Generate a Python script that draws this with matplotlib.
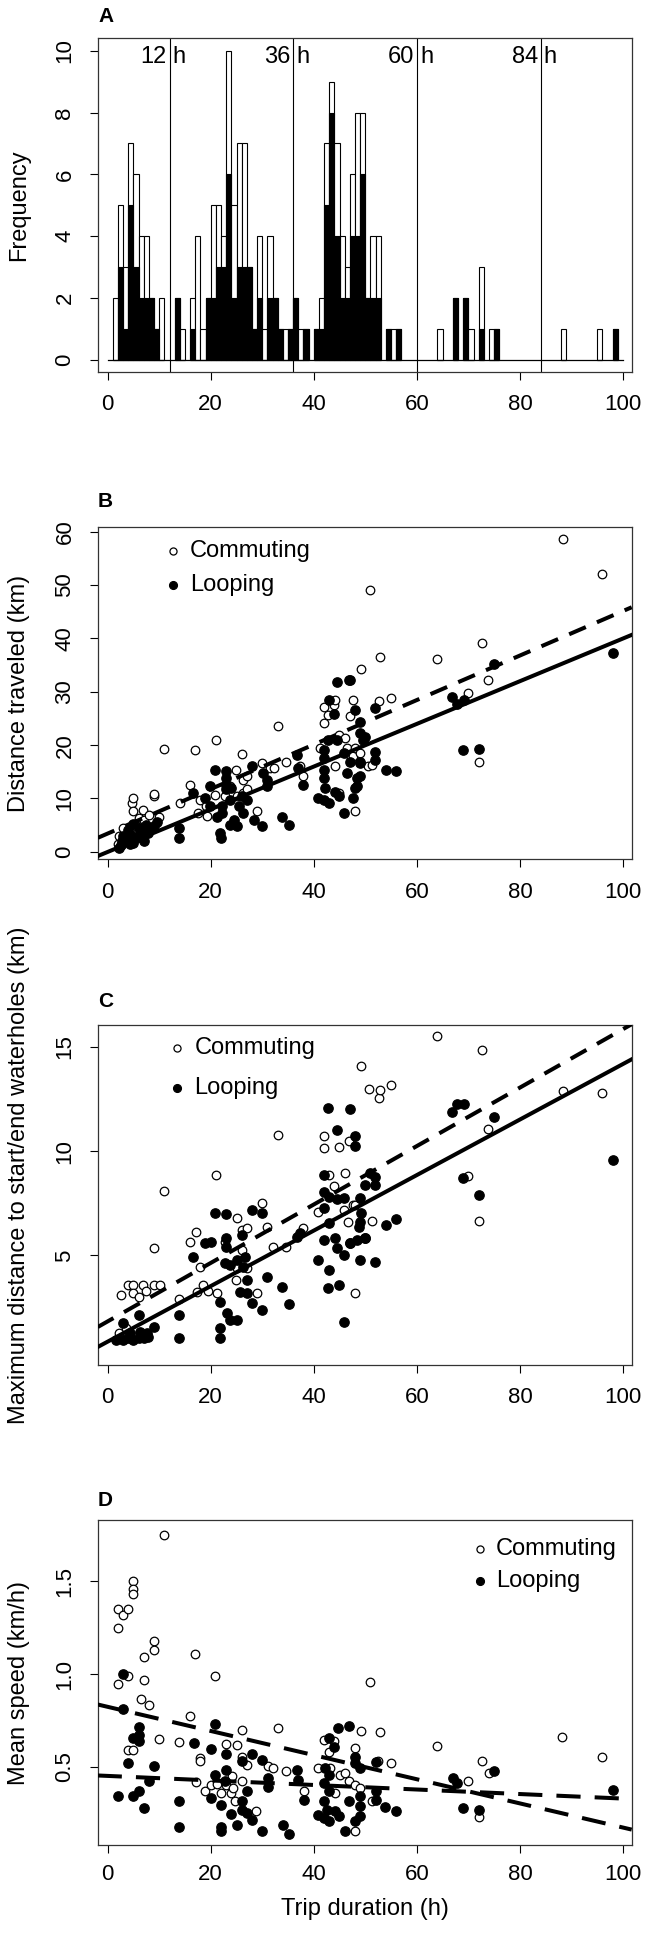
import matplotlib
matplotlib.use('Agg')
import matplotlib.pyplot as plt
import numpy as np

plt.rcParams['font.family'] = ['Liberation Sans', 'DejaVu Sans']

# ---- panel A: histogram of trip durations (1 h bins), total and looping counts
hist_bins = [1, 2, 3, 4, 5, 6, 7, 8, 9, 10, 13, 14, 16, 17, 18, 19, 20, 21, 22, 23,
             24, 25, 26, 27, 28, 29, 30, 31, 32, 33, 34, 35, 36, 37, 38, 40, 41, 42,
             43, 44, 45, 46, 47, 48, 49, 50, 51, 52, 54, 55, 56, 64, 67, 69, 70, 72,
             74, 75, 88, 95, 98]
hist_total = [2, 5, 3, 7, 6, 4, 4, 2, 1, 2, 2, 1, 2, 4, 1, 2, 5, 5, 4, 10,
              5, 7, 7, 3, 1, 4, 1, 4, 2, 1, 1, 1, 2, 1, 1, 1, 2, 7,
              9, 7, 4, 3, 6, 8, 8, 2, 4, 4, 1, 1, 1, 1, 2, 2, 1, 3,
              1, 1, 1, 1, 1]
hist_loop = [0, 3, 1, 5, 3, 2, 2, 2, 1, 0, 2, 0, 1, 0, 0, 2, 2, 3, 3, 6,
             2, 3, 3, 3, 1, 2, 0, 2, 2, 1, 0, 1, 2, 0, 1, 1, 1, 5,
             8, 4, 2, 2, 4, 4, 6, 2, 2, 2, 1, 0, 1, 0, 2, 2, 0, 1,
             0, 1, 0, 0, 1]
day_marks = [12, 36, 60, 84]

# ---- panel B: distance traveled (km)
b_comm_x = [2.0, 2.1, 3.0, 3.5, 4.0, 4.8, 5.0, 5.0, 5.5, 6.0, 6.9, 7.0, 8.0, 8.9, 9.0, 10.0,
            10.9, 14.0, 16.0, 17.0, 17.6, 18.0, 19.0, 19.2, 20.8, 21.0, 22.8, 23.7, 24.9,
            25.0, 26.0, 26.3, 27.0, 26.3, 27.0, 28.9, 29.9, 31.5, 32.2, 33.0, 34.7, 37.3,
            38.0, 41.2, 41.9, 41.9, 42.7, 44.0, 44.1, 44.1, 44.8, 44.8, 46.1, 46.4, 47.0,
            47.0, 47.7, 47.7, 48.0, 48.0, 49.0, 49.2, 50.6, 50.9, 51.2, 52.7, 52.9, 55.0,
            64.0, 69.9, 72.0, 72.7, 73.9, 88.3, 95.9]
b_comm_y = [1.5, 2.9, 4.5, 2.5, 3.5, 9.2, 7.6, 10.0, 4.8, 6.3, 7.9, 6.0, 6.9, 10.4, 10.9, 6.6,
            19.3, 9.2, 12.6, 19.0, 7.3, 9.8, 8.5, 6.7, 10.7, 20.9, 10.4, 12.3, 15.4,
            10.4, 18.4, 11.0, 11.7, 13.5, 14.2, 7.6, 16.6, 15.7, 15.7, 23.5, 16.9, 16.0,
            14.2, 19.5, 27.2, 24.1, 25.7, 27.6, 28.5, 16.0, 21.9, 11.0, 21.3, 19.5, 25.4,
            18.2, 17.9, 28.5, 19.5, 7.6, 18.5, 34.2, 16.0, 49.0, 16.3, 28.2, 36.6, 28.8,
            36.2, 29.7, 16.8, 39.2, 32.2, 58.6, 52.1]
b_loop_x = [2.1, 2.5, 2.7, 3.0, 3.7, 4.0, 4.3, 4.5, 5.0, 5.0, 5.5, 6.0, 6.0, 6.5, 7.0, 7.5,
            7.9, 8.9, 9.5, 13.9, 13.9, 16.6, 18.9, 19.9, 19.9, 20.8, 21.2, 21.8, 22.0,
            22.1, 22.1, 23.0, 23.0, 23.0, 23.0, 23.7, 23.7, 24.0, 24.5, 25.0, 25.4, 26.0,
            26.3, 27.0, 28.0, 28.3, 29.9, 30.2, 30.9, 30.9, 33.8, 35.1, 36.7, 37.0, 38.0,
            40.9, 41.9, 41.9, 41.9, 41.9, 41.9, 42.2, 42.8, 42.9, 43.0, 44.0, 44.1, 44.5,
            44.6, 44.8, 45.8, 45.8, 46.4, 46.9, 47.0, 47.0, 47.7, 48.0, 48.0, 48.3, 48.3,
            48.9, 49.0, 49.0, 49.0, 49.0, 49.6, 50.0, 51.9, 51.9, 51.9, 54.0, 56.0, 66.9,
            67.8, 69.2, 69.0, 72.0, 74.9, 98.0]
b_loop_y = [0.7, 1.2, 2.0, 3.0, 2.3, 4.0, 1.4, 3.2, 1.7, 5.2, 2.5, 2.9, 4.5, 3.8, 2.0, 5.0,
            3.6, 4.8, 5.5, 4.5, 2.6, 11.0, 10.1, 12.3, 8.5, 15.4, 6.6, 3.5, 2.5,
            8.5, 7.3, 15.1, 13.8, 12.6, 11.7, 9.8, 5.1, 12.0, 6.0, 4.8, 8.5, 10.5,
            7.3, 9.8, 16.0, 6.0, 4.8, 14.8, 13.5, 12.3, 6.6, 5.1, 18.2, 15.7, 12.6,
            10.1, 19.1, 17.6, 15.4, 13.8, 9.8, 12.0, 21.0, 28.5, 9.2, 25.9, 11.3, 21.0,
            31.9, 10.4, 18.5, 7.3, 14.8, 32.2, 16.9, 32.2, 10.1, 26.6, 12.0, 13.8, 12.3,
            16.9, 24.4, 22.3, 16.6, 14.2, 21.0, 21.6, 26.9, 18.8, 17.3, 15.4, 15.1, 29.1,
            27.7, 28.5, 19.1, 19.3, 35.2, 37.2]

# ---- panel C: maximum distance to start/end waterholes (km)
c_comm_x = [2.1, 2.5, 3.5, 4.0, 5.0, 5.0, 6.0, 6.9, 7.5, 8.9, 9.0, 10.2, 10.9, 13.9, 16.0,
            17.1, 17.3, 17.9, 18.5, 19.5, 21.0, 21.2, 22.8, 24.9, 25.0, 25.0, 26.0, 26.0,
            27.0, 27.0, 28.9, 30.0, 31.0, 32.0, 33.0, 34.7, 38.0, 40.9, 42.0, 42.0, 43.0,
            44.0, 44.8, 45.8, 46.0, 46.7, 46.9, 47.7, 48.0, 48.0, 49.1, 50.8, 51.2, 52.7,
            52.9, 55.0, 64.0, 69.9, 72.0, 72.7, 73.9, 88.3, 95.9]
c_comm_y = [1.26, 3.1, 1.5, 3.58, 3.58, 3.2, 3.0, 3.58, 3.3, 3.58, 5.34, 3.58, 8.1, 2.9, 5.66,
            6.14, 3.26, 4.46, 3.6, 3.3, 8.83, 3.2, 5.66, 3.82, 6.78, 4.38, 6.22, 5.26,
            6.3, 4.38, 3.18, 7.53, 6.38, 5.42, 10.78, 5.42, 6.3, 7.1, 10.7, 10.14, 8.86,
            8.33, 10.2, 7.18, 8.94, 6.62, 10.5, 7.42, 3.18, 7.42, 14.06, 12.97, 6.67, 12.54,
            12.94, 13.18, 15.5, 8.81, 6.67, 14.86, 11.05, 12.9, 12.78]
c_loop_x = [1.7, 3.0, 3.0, 4.0, 4.3, 5.0, 6.0, 6.1, 6.3, 7.0, 7.6, 7.9, 8.9, 13.9, 13.9,
            16.6, 18.9, 20.0, 20.8, 21.8, 21.8, 21.8, 22.8, 23.0, 23.0, 23.0, 23.1, 23.7,
            23.7, 25.0, 25.0, 25.7, 26.0, 26.3, 26.7, 27.0, 27.0, 28.0, 28.0, 29.9, 30.0,
            30.9, 33.8, 35.1, 36.7, 37.3, 40.9, 41.9, 41.9, 41.9, 41.9, 42.8, 42.8, 43.0,
            43.0, 43.0, 44.1, 44.5, 44.5, 44.6, 44.8, 45.8, 45.8, 45.9, 47.0, 47.0, 47.0,
            48.0, 48.0, 48.3, 48.7, 49.0, 49.0, 49.0, 49.1, 50.0, 50.0, 50.0, 50.9, 51.9,
            51.9, 51.9, 54.0, 56.0, 66.9, 67.8, 68.9, 69.2, 72.0, 74.9, 98.0]
c_loop_y = [0.94, 0.94, 1.74, 1.02, 1.26, 0.94, 1.02, 2.14, 1.34, 1.02, 1.26, 1.1, 1.58, 2.14, 1.02,
            4.94, 5.58, 5.66, 7.05, 2.78, 1.5, 1.02, 4.62, 6.99, 5.82, 5.42, 2.22, 4.54,
            1.9, 4.78, 1.9, 3.26, 5.98, 4.46, 4.94, 3.82, 3.18, 7.18, 2.7, 2.38, 7.02,
            3.98, 3.5, 2.67, 5.9, 6.06, 4.78, 8.86, 8.06, 7.26, 5.74, 12.06, 3.42, 7.82,
            6.54, 4.3, 5.82, 7.7, 5.34, 11.02, 3.58, 7.74, 5.02, 1.82, 12.0, 5.58, 5.58,
            10.7, 10.22, 5.74, 6.38, 4.78, 7.74, 6.62, 7.02, 8.38, 5.82, 5.82, 8.94, 8.78,
            8.38, 4.7, 6.46, 6.73, 11.85, 12.27, 8.7, 12.27, 7.9, 11.63, 9.55]

# ---- panel D: mean speed (km/h)
d_comm_x = [2.0, 2.0, 2.0, 3.0, 4.0, 4.0, 4.0, 4.9, 4.9, 4.9, 4.9, 6.5, 7.0, 7.0, 8.0, 9.0,
            9.0, 10.0, 11.0, 13.9, 16.0, 17.0, 17.2, 18.0, 18.0, 18.8, 20.0, 20.9, 21.2,
            22.0, 23.0, 23.0, 24.0, 24.2, 24.3, 24.8, 25.0, 26.0, 26.0, 26.0, 27.1, 28.8,
            31.1, 32.0, 33.0, 34.7, 38.1, 40.9, 41.9, 43.0, 43.1, 43.9, 44.1, 45.1, 46.1,
            46.9, 48.0, 48.0, 48.0, 48.9, 49.1, 50.9, 51.2, 52.5, 52.9, 55.0, 64.0, 70.0,
            72.0, 72.6, 74.0, 88.2, 95.9]
d_comm_y = [1.35, 1.25, 0.946, 1.32, 1.35, 0.99, 0.592, 1.50, 1.46, 1.43, 0.592, 0.865, 1.09, 0.97,
            0.833, 1.18, 1.13, 0.649, 1.75, 0.637, 0.774, 1.11, 0.419, 0.547, 0.53, 0.369,
            0.405, 0.99, 0.408, 0.36, 0.622, 0.405, 0.36, 0.449, 0.387, 0.315, 0.619, 0.699,
            0.556, 0.422, 0.512, 0.265, 0.503, 0.494, 0.712, 0.476, 0.369, 0.494, 0.646,
            0.583, 0.494, 0.64, 0.36, 0.458, 0.467, 0.422, 0.605, 0.405, 0.155, 0.387, 0.694,
            0.956, 0.315, 0.53, 0.687, 0.521, 0.614, 0.422, 0.231, 0.533, 0.467, 0.663, 0.553]
d_loop_x = [2.0, 3.0, 3.0, 4.0, 4.9, 4.9, 6.0, 6.0, 6.0, 6.0, 7.0, 8.0, 9.0, 13.9, 13.9, 16.7,
            20.0, 20.0, 20.8, 20.9, 22.0, 22.0, 22.0, 22.8, 23.0, 23.0, 24.0, 25.0, 26.0,
            26.0, 26.0, 27.0, 27.1, 28.0, 28.0, 29.9, 30.0, 31.1, 31.1, 34.1, 35.1, 36.7,
            37.0, 38.1, 40.9, 41.9, 41.9, 41.9, 42.1, 42.5, 42.9, 42.9, 43.0, 43.0, 43.9,
            44.1, 44.7, 44.9, 46.1, 46.9, 46.9, 48.0, 48.0, 48.0, 48.9, 48.9, 48.9, 48.9,
            52.0, 52.0, 52.0, 53.9, 56.0, 67.0, 67.8, 69.0, 72.0, 75.0, 98.0]
d_loop_y = [0.342, 1.0, 0.812, 0.521, 0.658, 0.342, 0.714, 0.672, 0.642, 0.369, 0.28, 0.422,
            0.506, 0.315, 0.176, 0.628, 0.596, 0.333, 0.458, 0.73, 0.297, 0.176, 0.158,
            0.422, 0.569, 0.485, 0.248, 0.19, 0.53, 0.315, 0.271, 0.369, 0.253, 0.569,
            0.212, 0.158, 0.539, 0.44, 0.392, 0.19, 0.14, 0.485, 0.431, 0.324, 0.244,
            0.413, 0.319, 0.226, 0.494, 0.271, 0.658, 0.369, 0.458, 0.208, 0.61, 0.262,
            0.712, 0.235, 0.155, 0.721, 0.315, 0.556, 0.521, 0.208, 0.494, 0.235, 0.289,
            0.342, 0.526, 0.324, 0.369, 0.283, 0.265, 0.44, 0.413, 0.28, 0.267, 0.476, 0.378]

# fitted lines (intercept, slope)
b_comm_fit = (3.43, 0.417)
b_loop_fit = (-0.02, 0.400)
c_comm_fit = (1.84, 0.140)
c_loop_fit = (0.87, 0.133)
d_comm_fit = (0.824, -0.0065)
d_loop_fit = (0.452, -0.00122)

W, H = 648, 1941
fig = plt.figure(figsize=(W / 100, H / 100), dpi=100)
XLIM = (-1.94, 101.7)
FS = 16     # tick labels
FT = 17     # other text


def make_axes(top, bottom):
    return fig.add_axes([97.7 / W, 1 - bottom / H, 534 / W, (bottom - top) / H])


def style(ax, ylim, yticks, ylabels, xpad=10):
    ax.set_xlim(XLIM)
    ax.set_ylim(ylim)
    ax.set_xticks([0, 20, 40, 60, 80, 100])
    ax.set_yticks(yticks)
    ax.set_yticklabels(ylabels, rotation=90, va='center')
    ax.tick_params(length=6, width=0.8, labelsize=FS, pad=10)
    ax.tick_params(axis='x', pad=xpad)
    for s in ax.spines.values():
        s.set_linewidth(0.9)
        s.set_color('#333333')


# panel A
axA = make_axes(38.3, 371.7)
axA.bar(hist_bins, hist_total, width=1, align='edge', color='white',
        edgecolor='black', linewidth=0.8, zorder=2)
axA.bar(hist_bins, hist_loop, width=1, align='edge', color='black',
        edgecolor='black', linewidth=0.8, zorder=3)
axA.plot([0, 100], [0, 0], color='black', lw=0.9, zorder=4)
for d in day_marks:
    axA.axvline(d, color='black', lw=0.8, zorder=1)
    axA.text(d - 0.5, 9.8, str(d), ha='right', va='center', fontsize=FT)
    axA.text(d + 0.6, 9.8, 'h', ha='left', va='center', fontsize=FT)
style(axA, (-0.38, 10.4), [0, 2, 4, 6, 8, 10], ['0', '2', '4', '6', '8', '10'])


def scatter_panel(ax, cx, cy, lx, ly, cfit, lfit, cdash, ldash):
    ax.scatter(cx, cy, s=38, facecolors='white', edgecolors='black', linewidths=0.9, zorder=2)
    ax.scatter(lx, ly, s=46, facecolors='black', edgecolors='black', linewidths=0.9, zorder=2)
    xs = np.array(XLIM)
    ax.plot(xs, cfit[0] + cfit[1] * xs, color='black', lw=2.9, dashes=cdash, zorder=3)
    if ldash is None:
        ax.plot(xs, lfit[0] + lfit[1] * xs, color='black', lw=2.9, zorder=3)
    else:
        ax.plot(xs, lfit[0] + lfit[1] * xs, color='black', lw=2.9, dashes=ldash, zorder=3)


def legend(ax, mx, tx, y1, y2):
    ax.scatter([mx], [y1], s=26, facecolors='white', edgecolors='black', linewidths=0.9, clip_on=False)
    ax.scatter([mx], [y2], s=32, facecolors='black', edgecolors='black', linewidths=0.9, clip_on=False)
    ax.text(tx, y1, 'Commuting', ha='left', va='center', fontsize=FT)
    ax.text(tx, y2, 'Looping', ha='left', va='center', fontsize=FT)


# panel B
axB = make_axes(526.7, 859.3)
scatter_panel(axB, b_comm_x, b_comm_y, b_loop_x, b_loop_y, b_comm_fit, b_loop_fit, (4.5, 3), None)
legend(axB, 12.7, 16.0, 56.3, 50.0)
style(axB, (-1.4, 60.94), [0, 10, 20, 30, 40, 50, 60], ['0', '10', '20', '30', '40', '50', '60'])

# panel C
axC = make_axes(1025, 1365)
scatter_panel(axC, c_comm_x, c_comm_y, c_loop_x, c_loop_y, c_comm_fit, c_loop_fit, (4.5, 3), None)
legend(axC, 13.5, 16.8, 14.94, 13.0)
style(axC, (-0.25, 16.04), [5, 10, 15], ['5', '10', '15'])

# panel D
axD = make_axes(1520, 1845)
scatter_panel(axD, d_comm_x, d_comm_y, d_loop_x, d_loop_y, d_comm_fit, d_loop_fit, (6, 3.5), (6, 3.5))
legend(axD, 72.3, 75.4, 1.675, 1.50)
style(axD, (0.08, 1.83), [0.5, 1.0, 1.5], ['0.5', '1.0', '1.5'], xpad=8)

# panel letters and axis titles
for letter, y in [('A', 17), ('B', 501.7), ('C', 1001.7), ('D', 1501)]:
    fig.text(98 / W, 1 - y / H, letter, fontsize=15, fontweight='bold', va='center', ha='left')

for label, y in [('Frequency', 205), ('Distance traveled (km)', 693),
                 ('Maximum distance to start/end waterholes (km)', 1175),
                 ('Mean speed (km/h)', 1683)]:
    fig.text(19 / W, 1 - y / H, label, rotation=90, fontsize=FT, ha='center', va='center')

fig.text(364.7 / W, 1 - 1909 / H, 'Trip duration (h)', fontsize=FT, ha='center', va='center')

fig.savefig('out.png', dpi=100)
